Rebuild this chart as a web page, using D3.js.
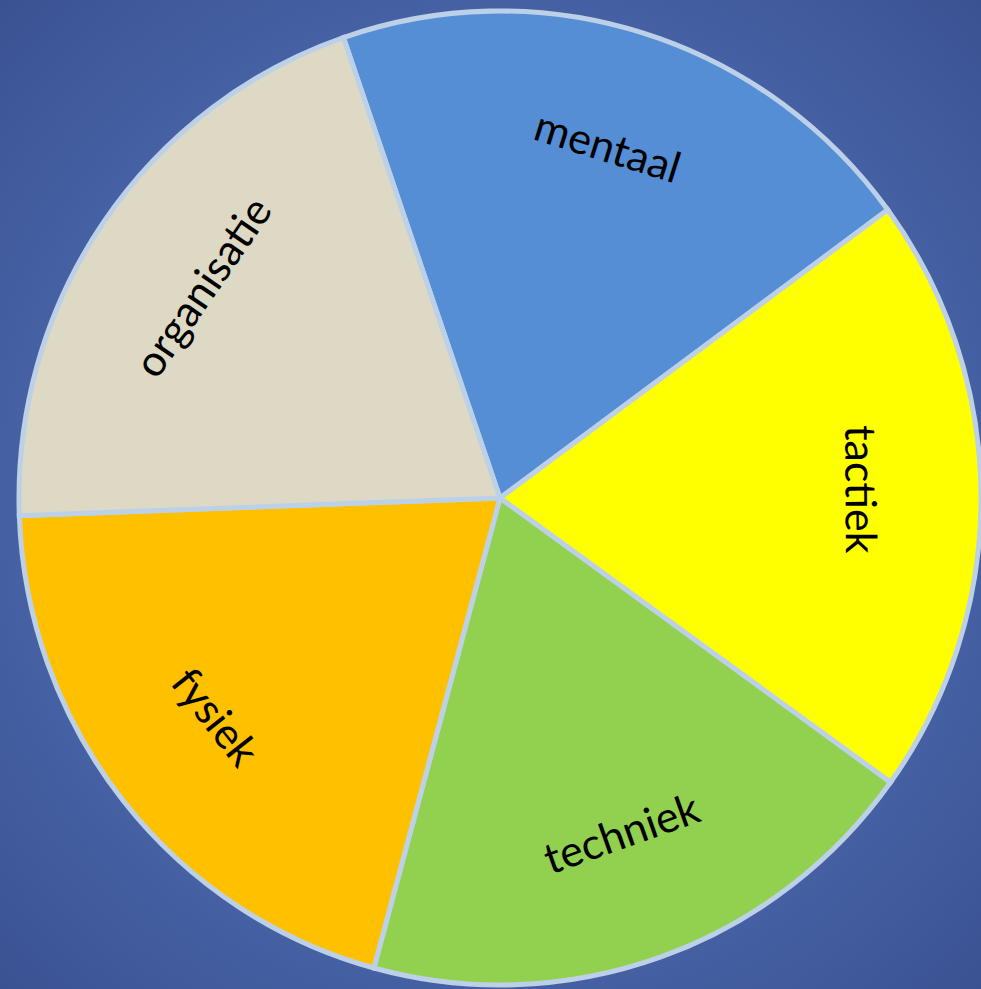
<!DOCTYPE html>
<html>
<head>
<meta charset="utf-8">
<script src="https://cdn.jsdelivr.net/npm/d3@7"></script>
<style>
  html, body { margin: 0; padding: 0; overflow: hidden; }
  svg { display: block; }
</style>
</head>
<body>
<div class="chart"></div>
<script>
// slices, clockwise from the top
var categories = ['mentaal', 'tactiek', 'techniek', 'fysiek', 'organisatie'];
var values = [20.2, 20.0, 19.3, 20.2, 20.3];
var colors = ['#558ED5', '#FFFF00', '#92D050', '#FFC000', '#DDD9C4'];

var width = 981, height = 989;
var cx = 500, cy = 498, radius = 481, squash = 487 / 481;

var svg = d3.select('.chart').append('svg')
    .attr('width', width)
    .attr('height', height);

// background gradient
var grad = svg.append('defs').append('radialGradient')
    .attr('id', 'bg')
    .attr('cx', '50%').attr('cy', '50%').attr('r', '72%');
grad.append('stop').attr('offset', '0%').attr('stop-color', '#5174B6');
grad.append('stop').attr('offset', '60%').attr('stop-color', '#4865A8');
grad.append('stop').attr('offset', '100%').attr('stop-color', '#3A5191');

svg.append('rect')
    .attr('width', width)
    .attr('height', height)
    .attr('fill', 'url(#bg)');

// the pie in the picture is a touch taller than wide
var g = svg.append('g')
    .attr('transform', 'translate(' + cx + ',' + cy + ') scale(1,' + squash + ')');

var start = -19 * Math.PI / 180;
var pie = d3.pie().sort(null).value(function (d) { return d; })
    .startAngle(start).endAngle(start + 2 * Math.PI);
var arcs = pie(values);

var arc = d3.arc().innerRadius(0).outerRadius(radius);

g.selectAll('path.slice')
    .data(arcs)
  .enter().append('path')
    .attr('class', 'slice')
    .attr('d', arc)
    .attr('fill', function (d, i) { return colors[i]; })
    .attr('stroke', '#BCD0E8')
    .attr('stroke-width', 5)
    .attr('stroke-linejoin', 'miter');

// labels sit along the slice, turned to follow the rim
var labelR = 362;
var lg = svg.append('g').attr('transform', 'translate(' + cx + ',' + (cy - 7) + ')');
lg.selectAll('text.label')
    .data(arcs)
  .enter().append('text')
    .attr('class', 'label')
    .attr('transform', function (d) {
      var a = (d.startAngle + d.endAngle) / 2;
      var x = labelR * Math.sin(a), y = -labelR * Math.cos(a);
      var deg = a * 180 / Math.PI;
      var rot = deg > 90.5 && deg < 270 ? deg - 180 : (deg >= 270 ? deg - 360 : deg);
      return 'translate(' + x + ',' + y + ') rotate(' + rot + ')';
    })
    .attr('text-anchor', 'middle')
    .attr('dominant-baseline', 'central')
    .style('font-family', 'Lato, "Open Sans", sans-serif')
    .style('font-size', '43px')
    .style('fill', '#000')
    .text(function (d, i) { return categories[i]; });
</script>
</body>
</html>
